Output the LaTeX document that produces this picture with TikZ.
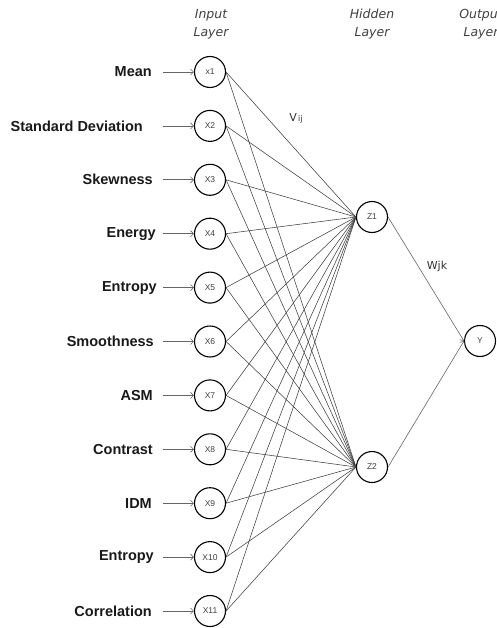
\documentclass[tikz,border=0pt]{standalone}
\usepackage{fontspec}
\setmainfont{Liberation Sans}
\newfontfamily\layerfont{DejaVu Sans}
\usetikzlibrary{positioning, arrows.meta}

\begin{document}
\begin{tikzpicture}[x=1pt, y=-1pt,
  neuron/.style={draw, circle, line width=1.1pt, minimum size=31pt, inner sep=0pt, font=\fontsize{8.5}{9}\selectfont, text=black!75},
  feature/.style={anchor=east, inner sep=0pt, font=\fontsize{14.5}{16}\selectfont\bfseries, text=black!90},
  layer/.style={align=center, font=\layerfont\itshape\fontsize{12.5}{18}\selectfont, text=black!75},
  weight/.style={font=\layerfont\fontsize{11}{12}\selectfont, text=black!80},
  link/.style={black!75, line width=0.55pt},
  feed/.style={-{Straight Barb[length=3pt, width=6pt]}, black!60, line width=0.6pt}]
  \useasboundingbox (0,0) rectangle (497,628);

  % layer titles
  \node[layer] (tin) at (211,24) {Input\\Layer};
  \node[layer] (thid) at (372,24) {Hidden\\Layer};
  \node[layer] (tout) at (481,24) {Output\\Layer};

  % input layer with feature names
  \foreach \i/\txt/\name/\r in {1/x1/Mean/152, 2/X2/Standard Deviation/143, 3/X3/Skewness/153,
      4/X4/Energy/156, 5/X5/Entropy/157, 6/X6/Smoothness/154, 7/X7/ASM/153,
      8/X8/Contrast/153, 9/X9/IDM/152, 10/X10/Entropy/154, 11/X11/Correlation/152} {
    \node[neuron] (x\i) at (210, {72+53.9*(\i-1)}) {\txt};
    \node[feature] (f\i) at (\r, {72+53.9*(\i-1)}) {\name};
    \coordinate (t\i) at (163, {72+53.9*(\i-1)});
    \draw[feed] (t\i) -- (x\i);
  }

  % hidden and output layer
  \node[neuron] (z1) at (372,217) {Z1};
  \node[neuron] (z2) at (372,467) {Z2};
  \node[neuron] (y) at (480,341) {Y};

  \foreach \i in {1,...,11} {
    \draw[link] (x\i.east) -- (z1.west);
    \draw[link] (x\i.east) -- (z2.west);
  }
  \draw[feed] (z1.east) -- (y.west);
  \draw[feed] (z2.east) -- (y.west);

  % weights
  \node[weight] (vij) at (296,118) {V{\fontsize{8}{9}\selectfont\,ij}};
  \node[weight] (wjk) at (437,266) {Wjk};
\end{tikzpicture}
\end{document}
